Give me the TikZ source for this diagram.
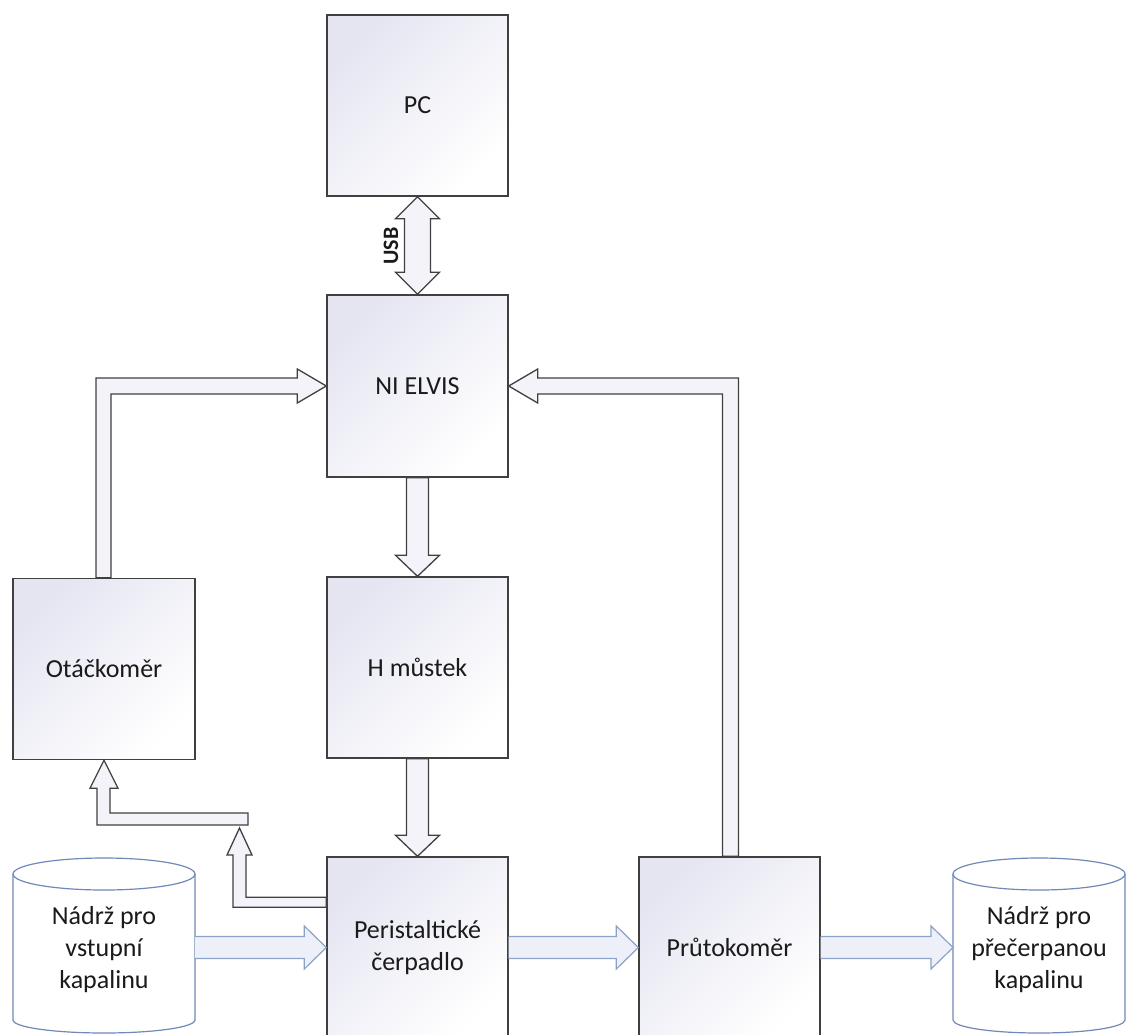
\documentclass[tikz,border=0pt]{standalone}
\usepackage{fontspec}
\setmainfont{Carlito}
\usetikzlibrary{calc}
\definecolor{edge}{HTML}{404040}
\definecolor{boxtop}{HTML}{E5E5F2}
\definecolor{arrowfill}{HTML}{F3F3F9}
\definecolor{flowline}{HTML}{8CA3C9}
\definecolor{flowfill}{HTML}{EDF0F8}
\definecolor{tankline}{HTML}{6F89B8}
\definecolor{txt}{HTML}{1A1A1A}
\begin{document}
\begin{tikzpicture}[x=1pt,y=-1pt,
  box/.style={draw=edge, line width=1.4pt, top color=boxtop, bottom color=white, shading angle=45,
    minimum width=181pt, minimum height=181pt, inner sep=0pt, text=txt,
    font=\fontsize{26}{32}\selectfont, align=center},
  tanktext/.style={text=txt, font=\fontsize{26}{32}\selectfont, align=center, inner sep=0pt},
  tankshape/.style={draw=tankline, line width=1.2pt, fill=white},
  harrow/.style={draw=edge, line width=1.3pt, fill=arrowfill, line join=miter},
  farrow/.style={draw=flowline, line width=1.2pt, fill=flowfill, line join=miter}]
\useasboundingbox (0,0) rectangle (1127,1034);
\clip (0,0) rectangle (1127,1034);

% tanks
\draw[tankshape] (13,874) -- (13,1020) arc[start angle=180, end angle=0, x radius=91, y radius=13]
  -- (195,874) arc[start angle=0, end angle=-180, x radius=91, y radius=16] -- cycle;
\draw[tankshape, fill=none] (13,874) arc[start angle=180, end angle=0, x radius=91, y radius=16];
\draw[tankshape] (953,874) -- (953,1020) arc[start angle=180, end angle=0, x radius=86, y radius=13]
  -- (1125,874) arc[start angle=0, end angle=-180, x radius=86, y radius=16] -- cycle;
\draw[tankshape, fill=none] (953,874) arc[start angle=180, end angle=0, x radius=86, y radius=16];
\node[tanktext] (tin) at (104,950) {Nádrž pro\\vstupní\\kapalinu};
\node[tanktext] (tout) at (1039,950) {Nádrž pro\\přečerpanou\\kapalinu};
\coordinate (tinE) at (195,947.5);
\coordinate (toutW) at (953,947.5);

% boxes
\node[box] (pc) at (417.5,105.5) {PC};
\node[box, minimum height=182pt] (ni) at (417.5,386) {NI ELVIS};
\node[box] (hm) at (417.5,667.5) {H můstek};
\node[box, minimum width=182pt] (ot) at (104,669) {Otáčkoměr};
\node[box] (per) at (417.5,947.5) {Peristaltické\\čerpadlo};
\node[box] (prut) at (729.5,947.5) {Průtokoměr};

% USB double arrow
\draw[harrow] (pc.south) -- ($(pc.south)+(22,22)$) -- ($(pc.south)+(13,22)$)
  -- ($(ni.north)+(13,-22)$) -- ($(ni.north)+(22,-22)$) -- (ni.north)
  -- ($(ni.north)+(-22,-22)$) -- ($(ni.north)+(-13,-22)$)
  -- ($(pc.south)+(-13,22)$) -- ($(pc.south)+(-22,22)$) -- cycle;
\node[font=\bfseries\fontsize{22}{26}\selectfont, rotate=90, text=txt, inner sep=0pt] (usb) at (391,246) {USB};

% NI -> H
\draw[harrow] ($(ni.south)+(-11,0)$) -- ($(hm.north)+(-11,-21)$) -- ($(hm.north)+(-22,-21)$)
  -- (hm.north) -- ($(hm.north)+(22,-21)$) -- ($(hm.north)+(11,-21)$) -- ($(ni.south)+(11,0)$) -- cycle;
% H -> Per
\draw[harrow] ($(hm.south)+(-11,0)$) -- ($(per.north)+(-11,-21)$) -- ($(per.north)+(-22,-21)$)
  -- (per.north) -- ($(per.north)+(22,-21)$) -- ($(per.north)+(11,-21)$) -- ($(hm.south)+(11,0)$) -- cycle;

% Ot -> NI
\draw[harrow] ($(ot.north)+(-8,0)$) |- ($(ni.west)+(-29,-8)$) -- ($(ni.west)+(-29,-17)$)
  -- (ni.west) -- ($(ni.west)+(-29,17)$) -- ($(ni.west)+(-29,8)$) -| ($(ot.north)+(7,0)$) -- cycle;
% Prut -> NI
\draw[harrow] ($(prut.north)+(9,0)$) |- ($(ni.east)+(29,-8)$) -- ($(ni.east)+(29,-17)$)
  -- (ni.east) -- ($(ni.east)+(29,17)$) -- ($(ni.east)+(29,8)$) -| ($(prut.north)+(-7,0)$) -- cycle;

% Per -> junction -> Ot
\coordinate (j) at (239.5,828);
\draw[harrow] ($(per.north west)+(0,51)$) -| ($(j)+(-6.5,27)$) -- ($(j)+(-12.5,27)$)
  -- (j) -- ($(j)+(12.5,27)$) -- ($(j)+(6.5,27)$) |- ($(per.north west)+(0,41)$) -- cycle;
\draw[harrow] ($(j)+(8.5,-3)$) -| ($(ot.south)+(-7,28)$) -- ($(ot.south)+(-14,28)$)
  -- (ot.south) -- ($(ot.south)+(14,28)$) -- ($(ot.south)+(6,28)$) |- ($(j)+(8.5,-15)$) -- cycle;

% flow arrows
\draw[farrow] ($(tinE)+(0,-11)$) -- ($(per.west)+(-22,-11)$) -- ($(per.west)+(-22,-21.5)$)
  -- (per.west) -- ($(per.west)+(-22,21.5)$) -- ($(per.west)+(-22,11)$) -- ($(tinE)+(0,11)$);
\draw[farrow] ($(per.east)+(0,-11)$) -- ($(prut.west)+(-22,-11)$) -- ($(prut.west)+(-22,-21.5)$)
  -- (prut.west) -- ($(prut.west)+(-22,21.5)$) -- ($(prut.west)+(-22,11)$) -- ($(per.east)+(0,11)$);
\draw[farrow] ($(prut.east)+(0,-11)$) -- ($(toutW)+(-22,-11)$) -- ($(toutW)+(-22,-21.5)$)
  -- (toutW) -- ($(toutW)+(-22,21.5)$) -- ($(toutW)+(-22,11)$) -- ($(prut.east)+(0,11)$);
\end{tikzpicture}
\end{document}
